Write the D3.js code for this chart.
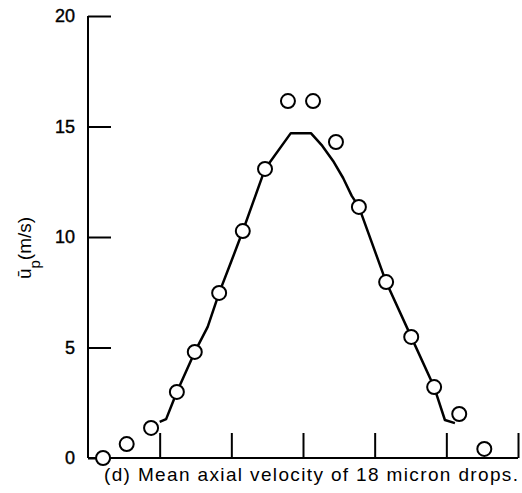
<!DOCTYPE html>
<head>
  <meta charset="utf-8">
  <script src="https://d3js.org/d3.v7.min.js"></script>
  <style>
    body { margin:0; background:#fff; }
    text { font-family: "Liberation Sans", Arial, sans-serif; fill:#000; }
  </style>
</head>
<body>
  <svg width="522" height="493"></svg>
  <script>
    // measured drop velocities (circles)
    var pointX = [0.21, 0.54, 0.88, 1.24, 1.49, 1.83, 2.16, 2.47, 2.79, 3.14, 3.46, 3.78, 4.16, 4.51, 4.83, 5.18, 5.53];
    var pointU = [0.0, 0.63, 1.36, 2.99, 4.80, 7.47, 10.27, 13.08, 16.15, 16.15, 14.30, 11.36, 7.96, 5.48, 3.21, 1.99, 0.41];
    // predicted curve
    var curveX = [1.00, 1.09, 1.24, 1.49, 1.67, 1.83, 2.00, 2.16, 2.47, 2.83, 3.11, 3.27, 3.42, 3.56, 3.68, 3.78, 4.16, 4.51, 4.83, 4.98, 5.12];
    var curveU = [1.63, 1.76, 2.99, 4.80, 5.93, 7.47, 8.90, 10.27, 13.08, 14.70, 14.70, 14.12, 13.44, 12.67, 11.86, 11.36, 7.96, 5.48, 3.21, 1.72, 1.58];
    var yTicks = [0, 5, 10, 15, 20];
    var xTicks = [1, 2, 3, 4, 5, 6];

    var svg = d3.select("svg");

    var x = d3.scaleLinear().domain([0, 6]).range([88, 518]);
    var y = d3.scaleLinear().domain([0, 20]).range([458, 16]);

    // y axis
    var yAxis = d3.axisRight(y).tickValues(yTicks).tickSize(23).tickFormat("");
    var gy = svg.append("g").attr("transform", "translate(" + x(0) + ",0)").call(yAxis);
    gy.select(".domain").attr("d", "M0," + y(20) + "V" + y(0));
    gy.selectAll("path, line").attr("stroke", "#000").attr("stroke-width", 2);

    svg.selectAll(".ylab")
      .data(yTicks)
      .enter()
      .append("text")
      .attr("class", "ylab")
      .attr("x", 75)
      .attr("y", function(d) { return y(d); })
      .attr("dy", "0.36em")
      .attr("text-anchor", "end")
      .style("font-size", "18px")
      .style("stroke", "#000")
      .style("stroke-width", 0.4)
      .text(function(d) { return d; });

    // x axis (ticks pointing up, no labels)
    var xAxis = d3.axisTop(x).tickValues(xTicks).tickSize(25).tickFormat("");
    var gx = svg.append("g").attr("transform", "translate(0," + y(0) + ")").call(xAxis);
    gx.select(".domain").attr("d", "M" + x(0) + ",0H" + x(6));
    gx.selectAll("path, line").attr("stroke", "#000").attr("stroke-width", 2);

    // curve
    var line = d3.line()
      .x(function(d) { return x(d[0]); })
      .y(function(d) { return y(d[1]); });

    svg.append("path")
      .attr("d", line(d3.zip(curveX, curveU)))
      .attr("fill", "none")
      .attr("stroke", "#000")
      .attr("stroke-width", 2.5)
      .attr("stroke-linejoin", "round");

    // circles
    svg.selectAll(".pt")
      .data(d3.zip(pointX, pointU))
      .enter()
      .append("circle")
      .attr("class", "pt")
      .attr("cx", function(d) { return x(d[0]); })
      .attr("cy", function(d) { return y(d[1]); })
      .attr("r", 7)
      .attr("fill", "#fff")
      .attr("stroke", "#000")
      .attr("stroke-width", 2);

    // y label
    var yl = svg.append("text")
      .attr("transform", "translate(31,248) rotate(-90)")
      .attr("text-anchor", "middle")
      .style("font-size", "19px");
    yl.append("tspan").text("\u016B");
    yl.append("tspan").attr("baseline-shift", "sub").style("font-size", "15px").text("p");
    yl.append("tspan").text("(m/s)");

    // caption
    svg.append("text")
      .attr("x", 104)
      .attr("y", 481)
      .attr("textLength", 414)
      .attr("lengthAdjust", "spacing")
      .style("font-size", "19px")
      .text("(d) Mean axial velocity of 18 micron drops.");
  </script>
</body>
